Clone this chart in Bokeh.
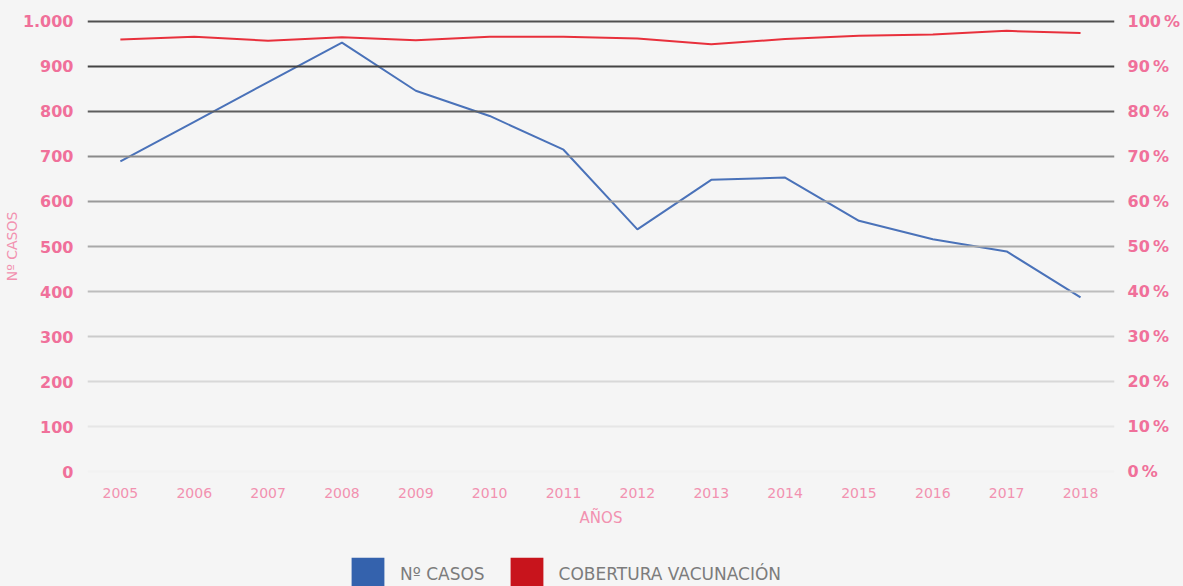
from bokeh.plotting import figure
from bokeh.models import Range1d, LinearAxis, FixedTicker, Span, Legend, LegendItem
from bokeh.layouts import column
from bokeh.embed import file_html
from bokeh.resources import INLINE

# ---- data ----
years = [2005, 2006, 2007, 2008, 2009, 2010, 2011, 2012, 2013, 2014, 2015, 2016, 2017, 2018]
casos = [689, 777, 865, 953, 846, 790, 715, 538, 648, 653, 557, 516, 489, 387]
cobertura = [96.0, 96.6, 95.7, 96.5, 95.8, 96.6, 96.6, 96.2, 94.9, 96.1, 96.8, 97.1, 97.9, 97.4]

left_ticks = [0, 100, 200, 300, 400, 500, 600, 700, 800, 900, 1000]
left_labels = ["0", "100", "200", "300", "400", "500", "600", "700", "800", "900", "1.000"]
right_ticks = [0, 10, 20, 30, 40, 50, 60, 70, 80, 90, 100]
right_labels = ["0\u2009%", "10\u2009%", "20\u2009%", "30\u2009%", "40\u2009%", "50\u2009%",
                "60\u2009%", "70\u2009%", "80\u2009%", "90\u2009%", "100\u2009%"]

series_names = ["Nº CASOS", "COBERTURA VACUNACIÓN"]
x_title = "AÑOS"
y_title = "Nº CASOS"

# ---- styles ----
BG = "#f5f5f5"
PINK = "#f0709a"
PINK_LIGHT = "#f291b0"
BLUE = "#4a72b9"
RED = "#e8303c"
FONT = "DejaVu Sans"
grid_colors = ["#f2f2f2", "#e6e6e6", "#d8d8d8", "#cbcbcb", "#bdbdbd", "#a9a9a9",
               "#9a9a9a", "#8a8a8a", "#5e5e5e", "#444444", "#505050"]

p = figure(width=1183, height=540,
           x_range=Range1d(2004.555, 2018.46), y_range=Range1d(-22, 1022),
           output_backend="svg", toolbar_location=None,
           min_border_left=87, min_border_right=66, min_border_top=11, min_border_bottom=59)
p.background_fill_alpha = 0
p.border_fill_color = BG
p.outline_line_color = None
p.xgrid.visible = False
p.ygrid.visible = False
p.extra_y_ranges = {"pct": Range1d(-2.2, 102.2)}

for t, c in zip(left_ticks, grid_colors):
    p.add_layout(Span(location=t, dimension="width", line_color=c, line_width=2))

# left axis
la = p.yaxis[0]
la.ticker = FixedTicker(ticks=left_ticks)
la.major_label_overrides = {t: l for t, l in zip(left_ticks, left_labels)}
la.axis_line_color = None
la.major_tick_line_color = None
la.minor_tick_line_color = None
la.major_tick_out = 0
la.major_label_standoff = 14
la.major_label_text_font = FONT
la.major_label_text_font_style = "bold"
la.major_label_text_font_size = "16px"
la.major_label_text_color = PINK
la.axis_label = y_title
la.axis_label_text_font = FONT
la.axis_label_text_font_style = "normal"
la.axis_label_text_font_size = "14px"
la.axis_label_text_color = PINK_LIGHT
la.axis_label_standoff = 0

# right axis
ra = LinearAxis(y_range_name="pct")
ra.ticker = FixedTicker(ticks=right_ticks)
ra.major_label_overrides = {t: l for t, l in zip(right_ticks, right_labels)}
ra.axis_line_color = None
ra.major_tick_line_color = None
ra.minor_tick_line_color = None
ra.major_tick_out = 0
ra.major_label_standoff = 13
ra.major_label_text_font = FONT
ra.major_label_text_font_style = "bold"
ra.major_label_text_font_size = "16px"
ra.major_label_text_color = PINK
p.add_layout(ra, "right")

# bottom axis
ba = p.xaxis[0]
ba.ticker = FixedTicker(ticks=years)
ba.major_label_overrides = {y: str(y) for y in years}
ba.axis_line_color = None
ba.major_tick_line_color = None
ba.minor_tick_line_color = None
ba.major_tick_out = 0
ba.major_label_standoff = 6
ba.major_label_text_font = FONT
ba.major_label_text_font_size = "14px"
ba.major_label_text_color = PINK_LIGHT
ba.axis_label = x_title
ba.axis_label_text_font = FONT
ba.axis_label_text_font_style = "normal"
ba.axis_label_text_font_size = "15px"
ba.axis_label_text_color = PINK_LIGHT
ba.axis_label_standoff = 8

# lines
p.line(years, casos, line_color=BLUE, line_width=2)
p.line(years, cobertura, y_range_name="pct", line_color=RED, line_width=2)

# legend strip
p2 = figure(width=1183, height=46, output_backend="svg", toolbar_location=None,
            x_axis_type=None, y_axis_type=None,
            min_border_left=87, min_border_right=66, min_border_top=0, min_border_bottom=0,
            x_range=Range1d(0, 1), y_range=Range1d(0, 1))
p2.background_fill_alpha = 0
p2.border_fill_color = BG
p2.outline_line_color = None
# swatch glyphs (placed outside the visible range; only their legend swatches show)
q1 = p2.quad(left=[-10], right=[-9], top=[-10], bottom=[-11], fill_color="#3462ad", line_color=None)
q2 = p2.quad(left=[-10], right=[-9], top=[-10], bottom=[-11], fill_color="#c8141c", line_color=None)
legend = Legend(items=[LegendItem(label=series_names[0], renderers=[q1]),
                       LegendItem(label=series_names[1], renderers=[q2])],
                orientation="horizontal", location=(260, -9),
                glyph_width=41, glyph_height=42, label_height=42,
                label_standoff=12, spacing=21, padding=0, margin=0,
                border_line_color=None, background_fill_alpha=0,
                label_text_font=FONT, label_text_font_size="17px",
                label_text_color="#7c7c7c", label_text_baseline="middle")
p2.add_layout(legend, "center")

layout = column(p, p2, spacing=0)
html = file_html(layout, INLINE)
html = html.replace("</head>", "<style>html, body { background: #f5f5f5; }</style></head>", 1)
open("out.html", "w").write(html)
